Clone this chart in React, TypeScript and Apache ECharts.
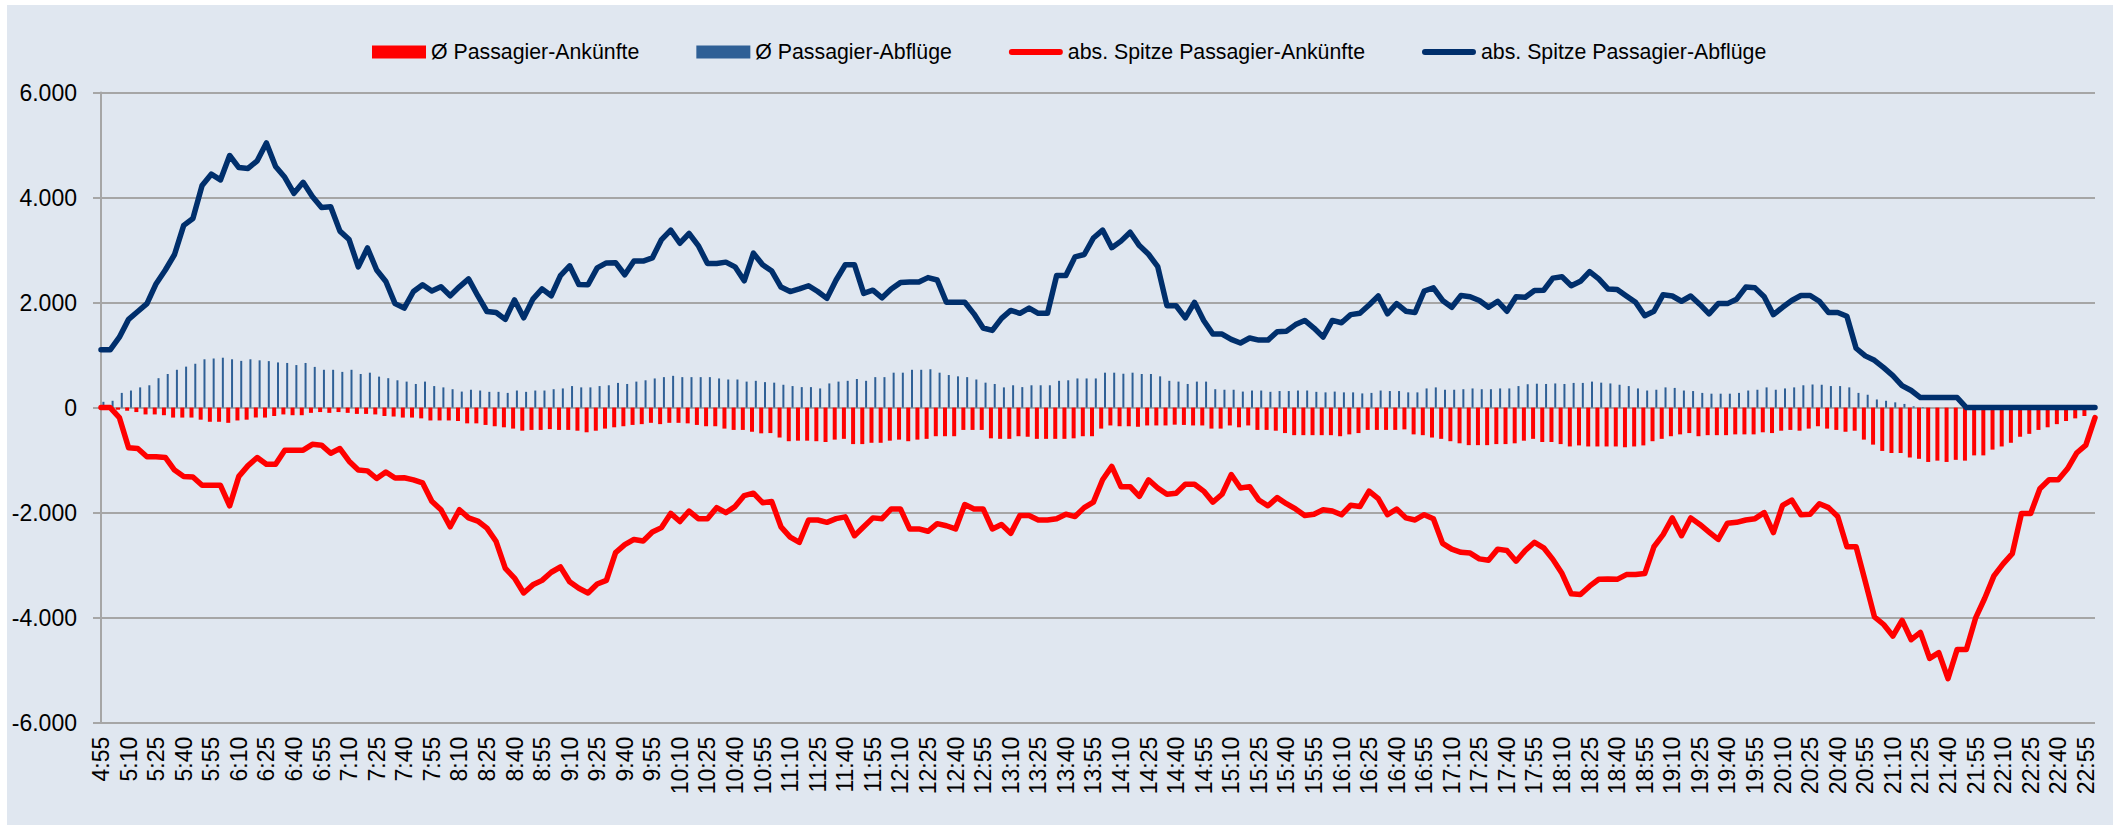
import React, { useEffect, useRef } from 'react';
import * as echarts from 'echarts';

// 5-minute time slots (4:55 – 23:00)
const times: string[] = [
  '4:55',
  '5:00', '5:05', '5:10', '5:15', '5:20', '5:25', '5:30', '5:35', '5:40', '5:45', '5:50', '5:55',
  '6:00', '6:05', '6:10', '6:15', '6:20', '6:25', '6:30', '6:35', '6:40', '6:45', '6:50', '6:55',
  '7:00', '7:05', '7:10', '7:15', '7:20', '7:25', '7:30', '7:35', '7:40', '7:45', '7:50', '7:55',
  '8:00', '8:05', '8:10', '8:15', '8:20', '8:25', '8:30', '8:35', '8:40', '8:45', '8:50', '8:55',
  '9:00', '9:05', '9:10', '9:15', '9:20', '9:25', '9:30', '9:35', '9:40', '9:45', '9:50', '9:55',
  '10:00', '10:05', '10:10', '10:15', '10:20', '10:25', '10:30', '10:35', '10:40', '10:45', '10:50', '10:55',
  '11:00', '11:05', '11:10', '11:15', '11:20', '11:25', '11:30', '11:35', '11:40', '11:45', '11:50', '11:55',
  '12:00', '12:05', '12:10', '12:15', '12:20', '12:25', '12:30', '12:35', '12:40', '12:45', '12:50', '12:55',
  '13:00', '13:05', '13:10', '13:15', '13:20', '13:25', '13:30', '13:35', '13:40', '13:45', '13:50', '13:55',
  '14:00', '14:05', '14:10', '14:15', '14:20', '14:25', '14:30', '14:35', '14:40', '14:45', '14:50', '14:55',
  '15:00', '15:05', '15:10', '15:15', '15:20', '15:25', '15:30', '15:35', '15:40', '15:45', '15:50', '15:55',
  '16:00', '16:05', '16:10', '16:15', '16:20', '16:25', '16:30', '16:35', '16:40', '16:45', '16:50', '16:55',
  '17:00', '17:05', '17:10', '17:15', '17:20', '17:25', '17:30', '17:35', '17:40', '17:45', '17:50', '17:55',
  '18:00', '18:05', '18:10', '18:15', '18:20', '18:25', '18:30', '18:35', '18:40', '18:45', '18:50', '18:55',
  '19:00', '19:05', '19:10', '19:15', '19:20', '19:25', '19:30', '19:35', '19:40', '19:45', '19:50', '19:55',
  '20:00', '20:05', '20:10', '20:15', '20:20', '20:25', '20:30', '20:35', '20:40', '20:45', '20:50', '20:55',
  '21:00', '21:05', '21:10', '21:15', '21:20', '21:25', '21:30', '21:35', '21:40', '21:45', '21:50', '21:55',
  '22:00', '22:05', '22:10', '22:15', '22:20', '22:25', '22:30', '22:35', '22:40', '22:45', '22:50', '22:55',
  '23:00',
];

// Ø Passagier-Ankünfte (bars, negative)
const avgArrivals: number[] = [
  0, 0, -40, -60, -85, -130, -130, -145, -190, -190,
  -190, -230, -270, -270, -290, -245, -230, -190, -190, -160,
  -130, -145, -145, -100, -85, -100, -85, -100, -120, -120,
  -130, -160, -170, -190, -190, -205, -245, -245, -245, -255,
  -300, -300, -330, -355, -375, -400, -440, -425, -425, -410,
  -425, -425, -440, -470, -440, -400, -375, -355, -330, -315,
  -290, -315, -290, -290, -300, -330, -355, -355, -400, -425,
  -425, -460, -490, -485, -570, -640, -630, -630, -640, -655,
  -610, -595, -695, -695, -670, -670, -630, -610, -640, -610,
  -595, -545, -545, -545, -425, -425, -425, -585, -595, -595,
  -545, -555, -595, -595, -595, -595, -585, -545, -545, -400,
  -340, -355, -355, -365, -340, -340, -340, -325, -330, -340,
  -340, -400, -400, -340, -375, -340, -425, -425, -440, -485,
  -525, -525, -525, -525, -525, -545, -510, -485, -425, -425,
  -425, -425, -415, -510, -525, -570, -595, -640, -680, -715,
  -715, -715, -695, -695, -680, -630, -595, -655, -655, -695,
  -740, -720, -740, -740, -740, -740, -755, -740, -720, -640,
  -595, -545, -510, -485, -545, -525, -525, -525, -510, -510,
  -510, -470, -485, -440, -425, -440, -400, -355, -400, -425,
  -460, -440, -610, -705, -825, -865, -865, -950, -975, -1035,
  -1010, -1035, -995, -1010, -910, -910, -800, -740, -670, -555,
  -500, -425, -375, -315, -255, -205, -160, 0,
];

// Ø Passagier-Abflüge (bars, positive)
const avgDepartures: number[] = [
  110, 130, 280, 325, 385, 425, 560, 640, 720, 780,
  835, 920, 935, 950, 920, 890, 920, 900, 885, 860,
  850, 810, 850, 775, 720, 720, 680, 720, 640, 665,
  590, 560, 520, 495, 450, 495, 410, 385, 350, 305,
  340, 325, 300, 300, 280, 325, 300, 325, 325, 350,
  365, 410, 385, 385, 410, 425, 470, 450, 495, 520,
  555, 580, 605, 580, 580, 580, 580, 555, 535, 535,
  495, 510, 485, 475, 435, 410, 390, 390, 365, 460,
  495, 510, 545, 510, 580, 580, 665, 665, 720, 720,
  730, 665, 620, 595, 580, 535, 475, 450, 385, 425,
  390, 425, 425, 425, 510, 520, 555, 555, 555, 665,
  665, 645, 665, 640, 640, 595, 510, 495, 450, 495,
  495, 350, 340, 340, 305, 325, 325, 300, 315, 315,
  325, 325, 300, 290, 305, 290, 290, 270, 280, 325,
  315, 315, 290, 290, 365, 385, 340, 340, 350, 365,
  350, 350, 365, 365, 410, 445, 455, 450, 460, 450,
  470, 470, 495, 475, 460, 435, 410, 365, 325, 340,
  385, 375, 325, 315, 280, 265, 265, 265, 280, 325,
  340, 385, 340, 365, 385, 425, 440, 435, 410, 410,
  385, 280, 245, 155, 130, 100, 70, 25, 10, 0,
  0, 0, 0, 0, 0, 0, 0, 0, 0, 0,
  0, 0, 0, 0, 0, 0, 0, 0,
];

// abs. Spitze Passagier-Ankünfte (line, negative)
const peakArrivals: number[] = [
  0, 0, -190, -765, -780, -935, -935, -950, -1190, -1310,
  -1320, -1480, -1480, -1480, -1870, -1310, -1105, -950, -1080, -1080,
  -810, -810, -810, -700, -715, -870, -780, -1020, -1190, -1205,
  -1350, -1225, -1340, -1335, -1375, -1435, -1785, -1945, -2270, -1945,
  -2100, -2160, -2295, -2550, -3060, -3245, -3530, -3375, -3290, -3135,
  -3035, -3315, -3440, -3530, -3360, -3290, -2760, -2610, -2510, -2540,
  -2370, -2285, -2015, -2170, -1970, -2115, -2115, -1905, -2000, -1885,
  -1675, -1630, -1810, -1790, -2270, -2465, -2565, -2140, -2140, -2185,
  -2115, -2080, -2440, -2270, -2100, -2115, -1930, -1930, -2310, -2310,
  -2355, -2210, -2250, -2310, -1845, -1930, -1930, -2310, -2225, -2395,
  -2055, -2055, -2140, -2140, -2115, -2030, -2075, -1905, -1800, -1375,
  -1120, -1505, -1505, -1690, -1375, -1530, -1650, -1630, -1460, -1460,
  -1590, -1800, -1650, -1275, -1530, -1505, -1760, -1870, -1715, -1830,
  -1930, -2055, -2030, -1945, -1970, -2040, -1860, -1885, -1590, -1735,
  -2040, -1930, -2100, -2140, -2040, -2115, -2585, -2695, -2755, -2770,
  -2880, -2905, -2695, -2720, -2925, -2720, -2565, -2670, -2890, -3160,
  -3545, -3560, -3400, -3270, -3265, -3270, -3180, -3180, -3160, -2650,
  -2420, -2100, -2440, -2100, -2225, -2370, -2510, -2200, -2185, -2140,
  -2115, -2000, -2380, -1860, -1760, -2040, -2030, -1830, -1905, -2075,
  -2650, -2650, -3310, -3985, -4130, -4350, -4050, -4420, -4280, -4775,
  -4665, -5160, -4605, -4605, -4010, -3630, -3205, -2975, -2780, -2015,
  -2015, -1545, -1375, -1375, -1165, -865, -715, -190,
];

// abs. Spitze Passagier-Abflüge (line, positive)
const peakDepartures: number[] = [
  1100, 1100, 1340, 1680, 1830, 1980, 2360, 2620, 2915, 3470,
  3600, 4230, 4445, 4335, 4800, 4570, 4555, 4700, 5040, 4590,
  4385, 4080, 4290, 4020, 3810, 3825, 3360, 3200, 2680, 3040,
  2620, 2400, 1980, 1895, 2210, 2340, 2220, 2300, 2130, 2300,
  2450, 2130, 1830, 1810, 1680, 2050, 1710, 2065, 2260, 2130,
  2515, 2700, 2345, 2340, 2660, 2755, 2760, 2530, 2790, 2790,
  2850, 3200, 3380, 3130, 3315, 3085, 2745, 2745, 2770, 2680,
  2415, 2940, 2720, 2600, 2295, 2210, 2260, 2320, 2210, 2080,
  2430, 2720, 2720, 2175, 2235, 2090, 2260, 2380, 2390, 2390,
  2475, 2430, 2005, 2005, 2005, 1785, 1515, 1470, 1700, 1850,
  1795, 1895, 1795, 1795, 2515, 2515, 2870, 2915, 3230, 3380,
  3045, 3170, 3340, 3085, 2920, 2685, 1940, 1940, 1710, 2005,
  1660, 1400, 1400, 1300, 1230, 1325, 1285, 1285, 1445, 1455,
  1580, 1660, 1515, 1345, 1660, 1615, 1770, 1795, 1955, 2125,
  1785, 1980, 1835, 1810, 2220, 2280, 2040, 1910, 2135, 2110,
  2040, 1910, 2025, 1835, 2110, 2100, 2230, 2235, 2465, 2490,
  2320, 2405, 2590, 2450, 2260, 2250, 2125, 2005, 1750, 1835,
  2150, 2125, 2025, 2125, 1965, 1785, 1980, 1980, 2065, 2295,
  2280, 2110, 1770, 1910, 2040, 2135, 2135, 2025, 1810, 1810,
  1740, 1130, 985, 900, 760, 610, 420, 325, 190, 190,
  190, 190, 190, 0, 0, 0, 0, 0, 0, 0,
  0, 0, 0, 0, 0, 0, 0, 0,
];

const seriesNames = [
  'Ø Passagier-Ankünfte',
  'Ø Passagier-Abflüge',
  'abs. Spitze Passagier-Ankünfte',
  'abs. Spitze Passagier-Abflüge',
];

const RED = '#FF0000';
const BAR_BLUE = '#2F6096';
const NAVY = '#002F6C';
const GRID_GRAY = '#A6A6A6';
const FONT = '"Liberation Sans", Arial, sans-serif';
const LINE_ICON = 'path://M3,0 L51,0 A3,3 0 0 1 51,6 L3,6 A3,3 0 0 1 3,0 Z';

const formatThousands = (v: number): string => {
  const s = Math.abs(v).toString().replace(/\B(?=(\d{3})+(?!\d))/g, '.');
  return v < 0 ? '-' + s : s;
};

export default function App() {
  const ref = useRef<HTMLDivElement>(null);

  useEffect(() => {
    if (!ref.current) return;
    const chart = echarts.init(ref.current, null, { renderer: 'svg' });
    chart.setOption({
      animation: false,
      textStyle: { fontFamily: FONT },
      legend: {
        left: 372,
        top: 40,
        padding: 0,
        itemWidth: 54,
        itemHeight: 13,
        itemGap: 57,
        textStyle: { fontSize: 21.3, color: '#000', fontFamily: FONT, lineHeight: 24 },
        data: [
          { name: seriesNames[0], icon: 'rect', itemStyle: { color: RED, borderWidth: 0 } },
          { name: seriesNames[1], icon: 'rect', itemStyle: { color: BAR_BLUE, borderWidth: 0 } },
          { name: seriesNames[2], icon: LINE_ICON, itemStyle: { color: RED, borderWidth: 0 } },
          { name: seriesNames[3], icon: LINE_ICON, itemStyle: { color: NAVY, borderWidth: 0 } },
        ],
      },
      grid: { left: 101, right: 26, top: 92.5, bottom: 102.3, containLabel: false },
      xAxis: {
        type: 'category',
        data: times,
        boundaryGap: false,
        axisLine: { show: false, onZero: false },
        axisTick: { show: false },
        splitLine: { show: false },
        axisLabel: {
          interval: 2,
          rotate: 90,
          margin: 14,
          fontSize: 23,
          color: '#000',
          fontFamily: FONT,
        },
      },
      yAxis: {
        type: 'value',
        min: -6000,
        max: 6000,
        interval: 2000,
        axisLine: { show: true, lineStyle: { color: GRID_GRAY, width: 2 } },
        axisTick: { show: true, length: 8, lineStyle: { color: GRID_GRAY, width: 2 } },
        axisLabel: {
          margin: 24,
          fontSize: 23,
          color: '#000',
          fontFamily: FONT,
          formatter: formatThousands,
        },
        splitLine: { show: true, lineStyle: { color: GRID_GRAY, width: 2 } },
      },
      series: [
        {
          name: seriesNames[0],
          type: 'bar',
          data: avgArrivals,
          barWidth: 4,
          barGap: '20%',
          itemStyle: { color: RED },
        },
        {
          name: seriesNames[1],
          type: 'bar',
          data: avgDepartures,
          barWidth: 2,
          itemStyle: { color: BAR_BLUE },
        },
        {
          name: seriesNames[2],
          type: 'line',
          data: peakArrivals,
          symbol: 'none',
          lineStyle: { color: RED, width: 5.5, cap: 'round', join: 'round' },
          itemStyle: { color: RED },
          z: 3,
        },
        {
          name: seriesNames[3],
          type: 'line',
          data: peakDepartures,
          symbol: 'none',
          lineStyle: { color: NAVY, width: 5.5, cap: 'round', join: 'round' },
          itemStyle: { color: NAVY },
          z: 3,
        },
      ],
    });
    return () => chart.dispose();
  }, []);

  return (
    <div style={{ position: 'absolute', left: 0, top: 0, width: 2121, height: 825, background: '#ffffff' }}>
      <div style={{ position: 'absolute', left: 7, top: 5, width: 2106, height: 820, background: '#E0E7F0' }} />
      <div ref={ref} style={{ position: 'absolute', left: 0, top: 0, width: 2121, height: 825 }} />
    </div>
  );
}
